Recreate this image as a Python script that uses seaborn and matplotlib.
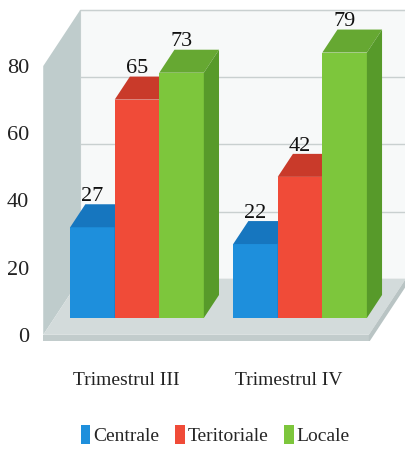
import matplotlib
matplotlib.use("Agg")
import matplotlib.pyplot as plt
from matplotlib.patches import Polygon
import seaborn as sns
import pandas as pd

# data
trimestre = ["Trimestrul III", "Trimestrul IV"]
tipuri = ["Centrale", "Teritoriale", "Locale"]
centrale = [27, 22]
teritoriale = [65, 42]
locale = [73, 79]
y_ticks = [0, 20, 40, 60, 80]

front_colors = ["#1e8fdc", "#f04b38", "#7dc63c"]
top_colors = ["#1676bf", "#c93a2a", "#66a832"]
side_colors = ["#1568aa", "#b23324", "#579a2a"]

df = pd.DataFrame({
    "trimestru": trimestre * 3,
    "tip": [t for t in tipuri for _ in trimestre],
    "valoare": centrale + teritoriale + locale,
})

sns.set_theme(style="white")
plt.rcParams["font.family"] = ["Liberation Serif", "DejaVu Serif"]

fig = plt.figure(figsize=(4.06, 4.51), dpi=100)
ax = fig.add_axes([0.0985, 0.2428, 0.9015, 0.7375])

sns.barplot(data=df, x="trimestru", y="valoare", hue="tip", hue_order=tipuri,
            palette=front_colors, saturation=1, width=0.82, linewidth=0, ax=ax, legend=False)

# fake 3D depth (in data units per full depth)
DX, DY, D0, DB = 0.227, 16.7, 0.3, 0.71


def pt(x, y, d):
    return (x + (d - D0) * DX, y + (d - D0) * DY)


XL, XR, XW = -0.507, 1.49, 2.2
wall_top = y_ticks[-1]

# back wall
ax.add_patch(Polygon([pt(XL, 0, 1), pt(XW, 0, 1), pt(XW, wall_top, 1), pt(XL, wall_top, 1)],
                     closed=True, fc="#f7f9f9", ec="#c8d0d0", lw=0.8, zorder=0))
for v in y_ticks[1:]:
    x0, y0 = pt(XL, v, 1)
    x1, y1 = pt(XW, v, 1)
    ax.plot([x0, x1], [y0, y1], color="#c9d0d0", lw=1.0, zorder=0.5)
# left wall
ax.add_patch(Polygon([pt(XL, 0, 0), pt(XL, 0, 1), pt(XL, wall_top, 1), pt(XL, wall_top, 0)],
                     closed=True, fc="#bfcccc", ec="none", zorder=0.6))
# floor
ax.add_patch(Polygon([pt(XL, 0, 0), pt(XR, 0, 0), pt(XR, 0, 1), pt(XL, 0, 1)],
                     closed=True, fc="#d3dbdb", ec="none", zorder=0.7))
ax.add_patch(Polygon([pt(XL, -2.3, 0), pt(XR, -2.3, 0), pt(XR, 0, 0), pt(XL, 0, 0)],
                     closed=True, fc="#c2cccc", ec="none", zorder=0.7))
ax.add_patch(Polygon([pt(XR, -2.3, 0), pt(XR, -2.3, 1), pt(XR, 0, 1), pt(XR, 0, 0)],
                     closed=True, fc="#b9c4c4", ec="none", zorder=0.7))

# tops, sides and labels of the bars
for i, cont in enumerate(ax.containers):
    for bar in cont:
        x0 = bar.get_x()
        x1 = x0 + bar.get_width()
        h = bar.get_height()
        z = 2 + i
        bar.set_zorder(z)
        ax.add_patch(Polygon([pt(x0, h, D0), pt(x1, h, D0), pt(x1, h, DB), pt(x0, h, DB)],
                             closed=True, fc=top_colors[i], ec="none", zorder=z))
        ax.add_patch(Polygon([pt(x1, 0, D0), pt(x1, 0, DB), pt(x1, h, DB), pt(x1, h, D0)],
                             closed=True, fc=side_colors[i], ec="none", zorder=z))
        ly = pt(0, h, DB)[1]
        ax.text((x0 + x1) / 2, ly - 0.5, f"{h:.0f}", ha="center", va="bottom", fontsize=16,
                color="#111111", zorder=10)

ax.set_xlim(-0.595, 1.65)
ax.set_ylim(-7, 92)
ax.set_xticks([pt(k, 0, 0)[0] for k in range(len(trimestre))], trimestre, fontsize=14)
ax.set_yticks([pt(0, v, 0)[1] for v in y_ticks], [str(v) for v in y_ticks], fontsize=16)
ax.tick_params(axis="both", length=0, colors="#222222")
ax.tick_params(axis="x", pad=22)
ax.tick_params(axis="y", pad=8)
ax.set_xlabel("")
ax.set_ylabel("")
for s in ax.spines.values():
    s.set_visible(False)
ax.patch.set_alpha(0)

handles = [plt.Rectangle((0, 0), 1, 1, fc=c, ec="none") for c in front_colors]
fig.legend(handles, tipuri, loc="center", bbox_to_anchor=(0.53, 0.035), ncol=3, frameon=False,
           fontsize=14, handlelength=0.5, handleheight=1.1, handletextpad=0.15, columnspacing=0.8)

fig.savefig("out.png", dpi=100)
